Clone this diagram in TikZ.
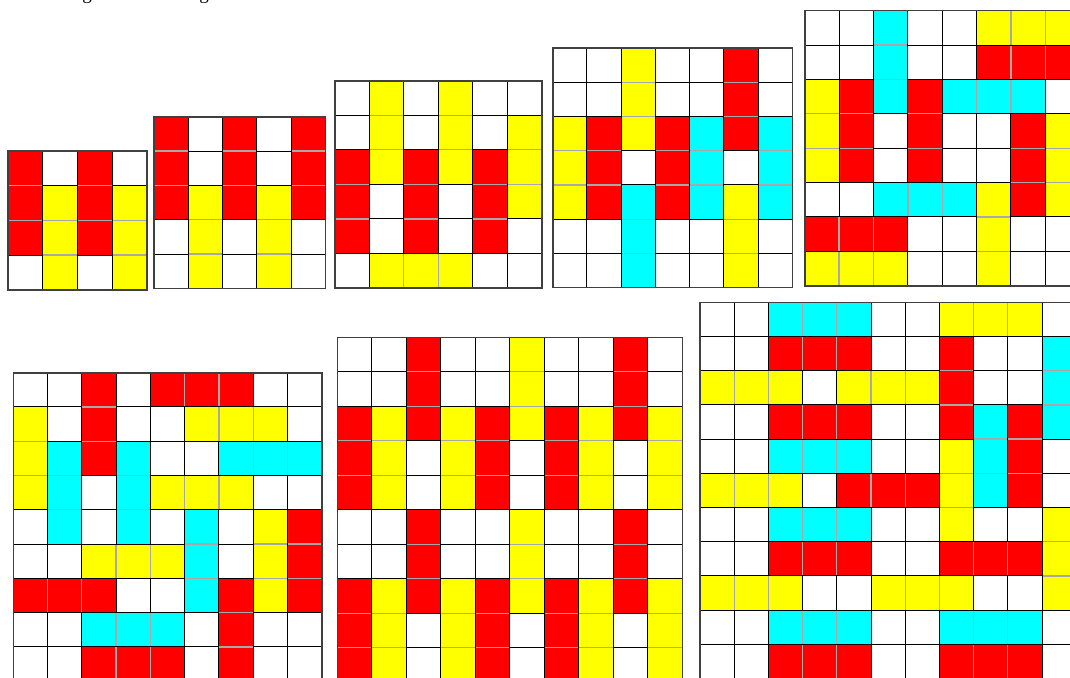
\documentclass[tikz,border=0pt]{standalone}
\usepackage{fontspec}
\setmainfont{Liberation Serif}

\definecolor{barred}{RGB}{255,0,0}
\definecolor{baryellow}{RGB}{255,255,0}
\definecolor{barcyan}{RGB}{0,255,255}
\definecolor{seamgray}{RGB}{168,168,168}

\tikzset{
  cellbox/.style={draw=black, line width=1pt, fill=white},
  piecebox/.style={draw=black, line width=1pt},
  seamline/.style={draw=seamgray, line width=1.3pt},
  gridframe/.style={draw=black!75, line width=1.6pt},
  captionletter/.style={anchor=base, inner sep=0pt,
    font=\fontsize{19}{22}\selectfont},
}

% #1,#2: top left corner (px), #3: cell size, #4: n, #5: bars c/r/h-or-v/colour
\newcommand\tilegrid[5]{%
  \begin{scope}[shift={(#1pt,-#2pt)},x=#3pt,y=-#3pt]
    \foreach \i in {1,...,#4}
      \foreach \j in {1,...,#4}
        \draw[cellbox] (\i-1,\j-1) rectangle (\i,\j);
    \foreach \c/\r/\d/\f in {#5} {
      \if h\d
        \fill[bar\f] (\c,\r) rectangle ++(3,1);
        \draw[seamline] (\c+1,\r) -- ++(0,1) (\c+2,\r) -- ++(0,1);
        \draw[piecebox] (\c,\r) rectangle ++(3,1);
      \else
        \fill[bar\f] (\c,\r) rectangle ++(1,3);
        \draw[seamline] (\c,\r+1) -- ++(1,0) (\c,\r+2) -- ++(1,0);
        \draw[piecebox] (\c,\r) rectangle ++(1,3);
      \fi
    }
    \draw[gridframe] (0,0) rectangle (#4,#4);
  \end{scope}}

\begin{document}
\begin{tikzpicture}[x=1pt,y=-1pt]
\useasboundingbox (0,0) rectangle (1070,677);
\clip (0,0) rectangle (1070,677);

% caption cut off by the top edge
\node[captionletter] (gleft) at (87,0) {g};
\node[captionletter] (gright) at (204,0) {g};

% first row: 4x4 up to 8x8
\tilegrid{8}{151}{34.7}{4}{0/0/v/red, 2/0/v/red, 1/1/v/yellow, 3/1/v/yellow}

\tilegrid{154}{116.7}{34.33}{5}{0/0/v/red, 2/0/v/red, 4/0/v/red,
  1/2/v/yellow, 3/2/v/yellow}

\tilegrid{334.7}{80.7}{34.55}{6}{1/0/v/yellow, 3/0/v/yellow, 5/1/v/yellow,
  0/2/v/red, 2/2/v/red, 4/2/v/red, 1/5/h/yellow}

\tilegrid{552.7}{48}{34.23}{7}{2/0/v/yellow, 5/0/v/red, 0/2/v/yellow,
  1/2/v/red, 3/2/v/red, 4/2/v/cyan, 6/2/v/cyan, 2/4/v/cyan, 5/4/v/yellow}

\tilegrid{804.7}{10.7}{34.38}{8}{2/0/v/cyan, 5/0/h/yellow, 5/1/h/red,
  0/2/v/yellow, 1/2/v/red, 3/2/v/red, 4/2/h/cyan, 6/3/v/red, 7/3/v/yellow,
  2/5/h/cyan, 5/5/v/yellow, 0/6/h/red, 0/7/h/yellow}

% second row: 9x9 up to 11x11
\tilegrid{13.3}{372.7}{34.27}{9}{2/0/v/red, 4/0/h/red, 0/1/v/yellow,
  5/1/h/yellow, 1/2/v/cyan, 3/2/v/cyan, 6/2/h/cyan, 4/3/h/yellow,
  5/4/v/cyan, 7/4/v/yellow, 8/4/v/red, 2/5/h/yellow, 0/6/h/red,
  6/6/v/red, 2/7/h/cyan, 2/8/h/red}

\tilegrid{337.3}{337.3}{34.5}{10}{2/0/v/red, 5/0/v/yellow, 8/0/v/red,
  0/2/v/red, 1/2/v/yellow, 3/2/v/yellow, 4/2/v/red, 6/2/v/red,
  7/2/v/yellow, 9/2/v/yellow, 2/5/v/red, 5/5/v/yellow, 8/5/v/red,
  0/7/v/red, 1/7/v/yellow, 3/7/v/yellow, 4/7/v/red, 6/7/v/red,
  7/7/v/yellow, 9/7/v/yellow}

\tilegrid{700}{302.3}{34.2}{11}{2/0/h/cyan, 7/0/h/yellow, 2/1/h/red,
  7/1/v/red, 10/1/v/cyan, 0/2/h/yellow, 4/2/h/yellow, 2/3/h/red,
  8/3/v/cyan, 9/3/v/red, 2/4/h/cyan, 7/4/v/yellow, 0/5/h/yellow,
  4/5/h/red, 2/6/h/cyan, 10/6/v/yellow, 2/7/h/red, 7/7/h/red,
  0/8/h/yellow, 5/8/h/yellow, 2/9/h/cyan, 7/9/h/cyan, 2/10/h/red,
  7/10/h/red}

\end{tikzpicture}
\end{document}
